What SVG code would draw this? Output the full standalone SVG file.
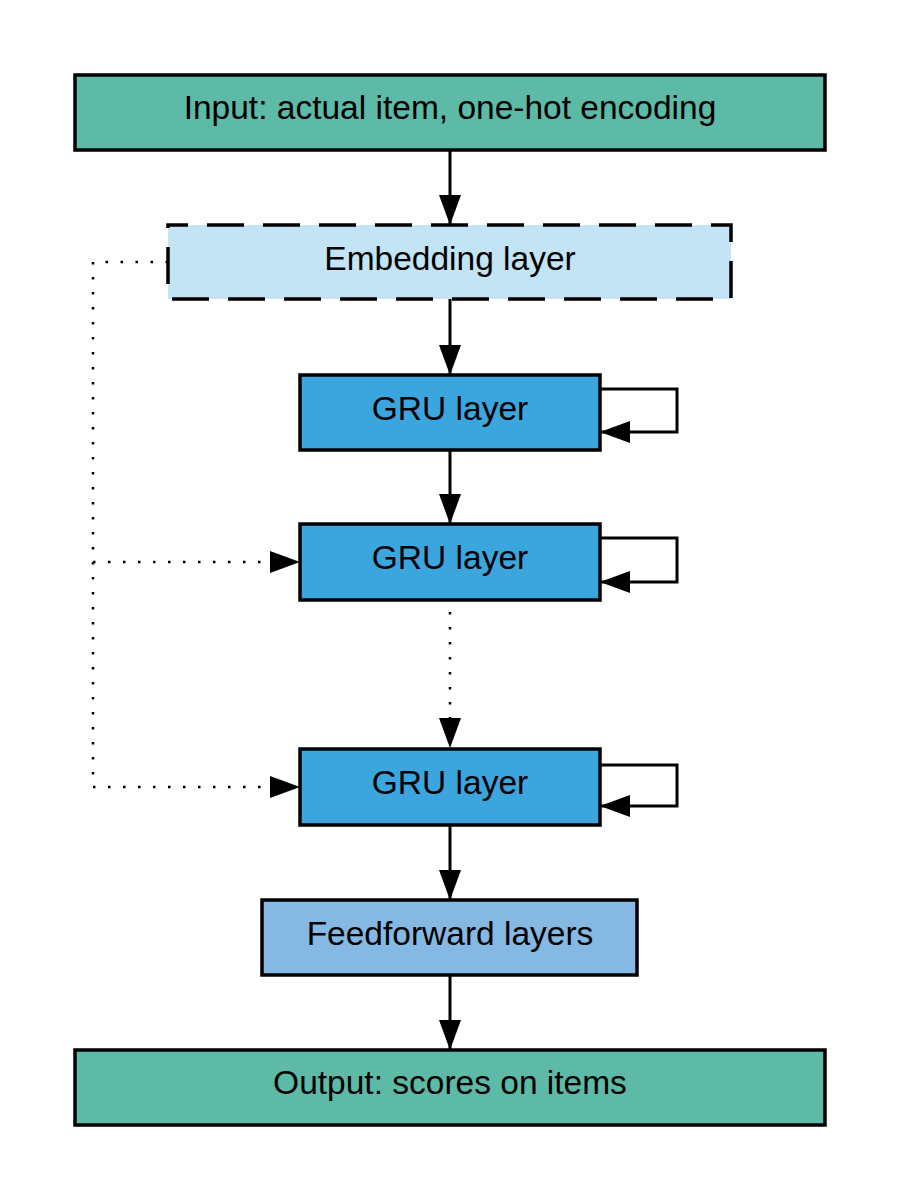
<svg xmlns="http://www.w3.org/2000/svg" width="900" height="1200" viewBox="0 0 900 1200">
<defs>
<style>
.box{stroke:#000;stroke-width:3.5}
.io{fill:#5cbaa7}
.gru{fill:#3ba5de}
.lbl{font-family:"Liberation Sans",Arial,sans-serif;font-size:33.5px;fill:#000;text-anchor:middle}
.ln{fill:none;stroke:#000;stroke-width:3}
.dot{fill:none;stroke:#000;stroke-width:2.5;stroke-dasharray:2.5 12.5}
</style>
<marker id="ah" viewBox="0 0 30 22" refX="30" refY="11" markerWidth="30" markerHeight="22" markerUnits="userSpaceOnUse" orient="auto">
<path d="M0,0 L30,11 L0,22 Z" fill="#000"/>
</marker>
</defs>
<rect width="900" height="1200" fill="#fff"/>
<g id="connectors">
<line class="ln" x1="450" y1="150" x2="450" y2="225" marker-end="url(#ah)"/>
<line class="ln" x1="450" y1="299" x2="450" y2="375" marker-end="url(#ah)"/>
<line class="ln" x1="450" y1="450" x2="450" y2="524" marker-end="url(#ah)"/>
<path class="dot" d="M450,612 L450,718"/>
<path d="M439,718 L461,718 L450,748 Z" fill="#000"/>
<line class="ln" x1="450" y1="825" x2="450" y2="900" marker-end="url(#ah)"/>
<line class="ln" x1="450" y1="975" x2="450" y2="1050" marker-end="url(#ah)"/>
<path class="ln" d="M600,389 L677,389 L677,432 L600,432" marker-end="url(#ah)"/>
<path class="ln" d="M600,538 L677,538 L677,582 L600,582" marker-end="url(#ah)"/>
<path class="ln" d="M600,765 L677,765 L677,806 L600,806" marker-end="url(#ah)"/>
<path class="dot" d="M168,262 L93,262 L93,787"/>
<path class="dot" d="M93,562 L270,562"/>
<path class="dot" d="M93,787 L270,787"/>
<path d="M270,551 L300,562 L270,573 Z" fill="#000"/>
<path d="M270,776 L300,787 L270,798 Z" fill="#000"/>
</g>
<g id="input">
<rect class="box io" x="75" y="75" width="750" height="75"/>
<text class="lbl" x="450" y="119">Input: actual item, one-hot encoding</text>
</g>
<g id="embedding">
<rect x="168" y="225" width="563" height="74" fill="#c2e4f5" stroke="#000" stroke-width="3.5" stroke-dasharray="37 19" stroke-dashoffset="17"/>
<text class="lbl" x="450" y="270">Embedding layer</text>
</g>
<g id="gru1">
<rect class="box gru" x="300" y="375" width="300" height="75"/>
<text class="lbl" x="450" y="420">GRU layer</text>
</g>
<g id="gru2">
<rect class="box gru" x="300" y="524" width="300" height="76"/>
<text class="lbl" x="450" y="569">GRU layer</text>
</g>
<g id="gru3">
<rect class="box gru" x="300" y="749" width="300" height="76"/>
<text class="lbl" x="450" y="794">GRU layer</text>
</g>
<g id="feedforward">
<rect class="box" x="262" y="900" width="375" height="75" fill="#85b9e3"/>
<text class="lbl" x="450" y="945">Feedforward layers</text>
</g>
<g id="output">
<rect class="box io" x="75" y="1050" width="750" height="75"/>
<text class="lbl" x="450" y="1094">Output: scores on items</text>
</g>
</svg>
